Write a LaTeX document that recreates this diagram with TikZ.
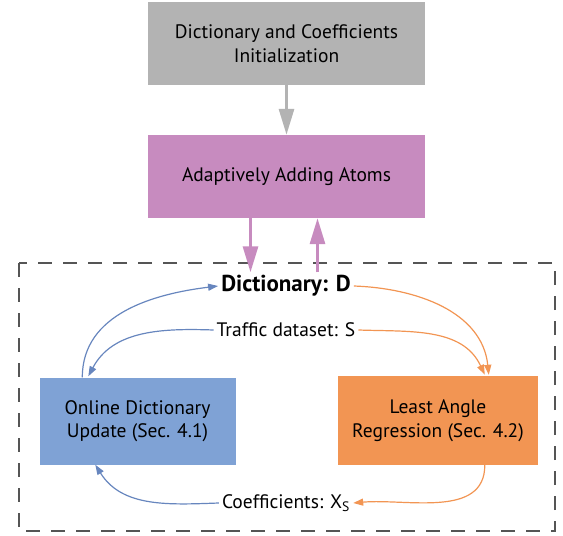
\documentclass[tikz,border=0pt]{standalone}
\usepackage{fontspec}
\setmainfont{PT Sans}
\usetikzlibrary{arrows.meta,calc}
\definecolor{boxgray}{HTML}{B3B3B3}
\definecolor{boxpurple}{HTML}{C78BBF}
\definecolor{boxblue}{HTML}{7FA2D5}
\definecolor{boxorange}{HTML}{F29553}
\definecolor{lineblue}{HTML}{6786BE}
\definecolor{lineorange}{HTML}{F29553}
\definecolor{dashgray}{HTML}{555555}
\begin{document}
\begin{tikzpicture}[x=1pt,y=-1pt,
  stagebox/.style={minimum width=277pt,minimum height=83pt,inner sep=0pt,align=center,
    font=\fontsize{19.5}{23.5}\selectfont},
  sidebox/.style={minimum width=196pt,minimum height=87pt,inner sep=0pt,align=center,
    font=\fontsize{19.5}{23.5}\selectfont},
  lbl/.style={inner sep=3pt,font=\fontsize{19.5}{23.5}\selectfont},
  bigarrow/.style={line width=3pt,-{Triangle[length=26pt,width=15pt]}},
  thinblue/.style={lineblue,line width=1.2pt,-{Triangle[length=10pt,width=7pt]}},
  thinorange/.style={lineorange,line width=1.2pt,-{Triangle[length=10pt,width=7pt]}}]
\useasboundingbox (0,0) rectangle (563,536);
\draw[dashgray,line width=1.3pt,dash pattern=on 14pt off 11pt] (19,263) rectangle (555,531);
\node[stagebox,fill=boxgray] (init) at (286.5,43.5) {Dictionary and Coefficients\\Initialization};
\node[stagebox,fill=boxpurple] (add) at (286.5,176.5) {Adaptively Adding Atoms};
\node[sidebox,fill=boxblue] (odu) at (137.5,421) {Online Dictionary\\Update (Sec. 4.1)};
\node[sidebox,fill=boxorange,minimum width=200pt,minimum height=89pt] (lar) at (438,420.5) {Least Angle\\Regression (Sec. 4.2)};
\node[lbl,font=\fontsize{23}{25}\selectfont\bfseries] (dict) at (286,286) {Dictionary: D};
\node[lbl] (traffic) at (286,330) {Traffic dataset: S};
\node[lbl] (coef) at (286,503) {Coefficients: X\textsubscript{S}};
\coordinate (addA) at ($(add.south)+(-36,0)$);
\coordinate (addB) at ($(add.south)+(31,0)$);
\draw[bigarrow,boxgray] (init.south) -- (add.north);
\draw[bigarrow,boxpurple] (addA) -- (addA |- dict.north);
\draw[bigarrow,boxpurple] (addB |- dict.north) -- (addB);
\draw[thinblue] ($(odu.north west)+(43,0)$) to[out=90,in=187] (dict.west);
\draw[thinblue] (traffic.west) to[out=178,in=62] ($(odu.north west)+(49,-1)$);
\draw[thinblue] (coef.west) to[out=182,in=-58] ($(odu.south west)+(56,0)$);
\draw[thinorange] (dict.east) to[out=-2,in=96] ($(lar.north west)+(151,-1)$);
\draw[thinorange] (traffic.east) to[out=-2,in=115] ($(lar.north west)+(147,-1)$);
\draw[thinorange] ($(lar.south west)+(147,0)$) to[out=-90,in=5] (coef.east);
\end{tikzpicture}
\end{document}
